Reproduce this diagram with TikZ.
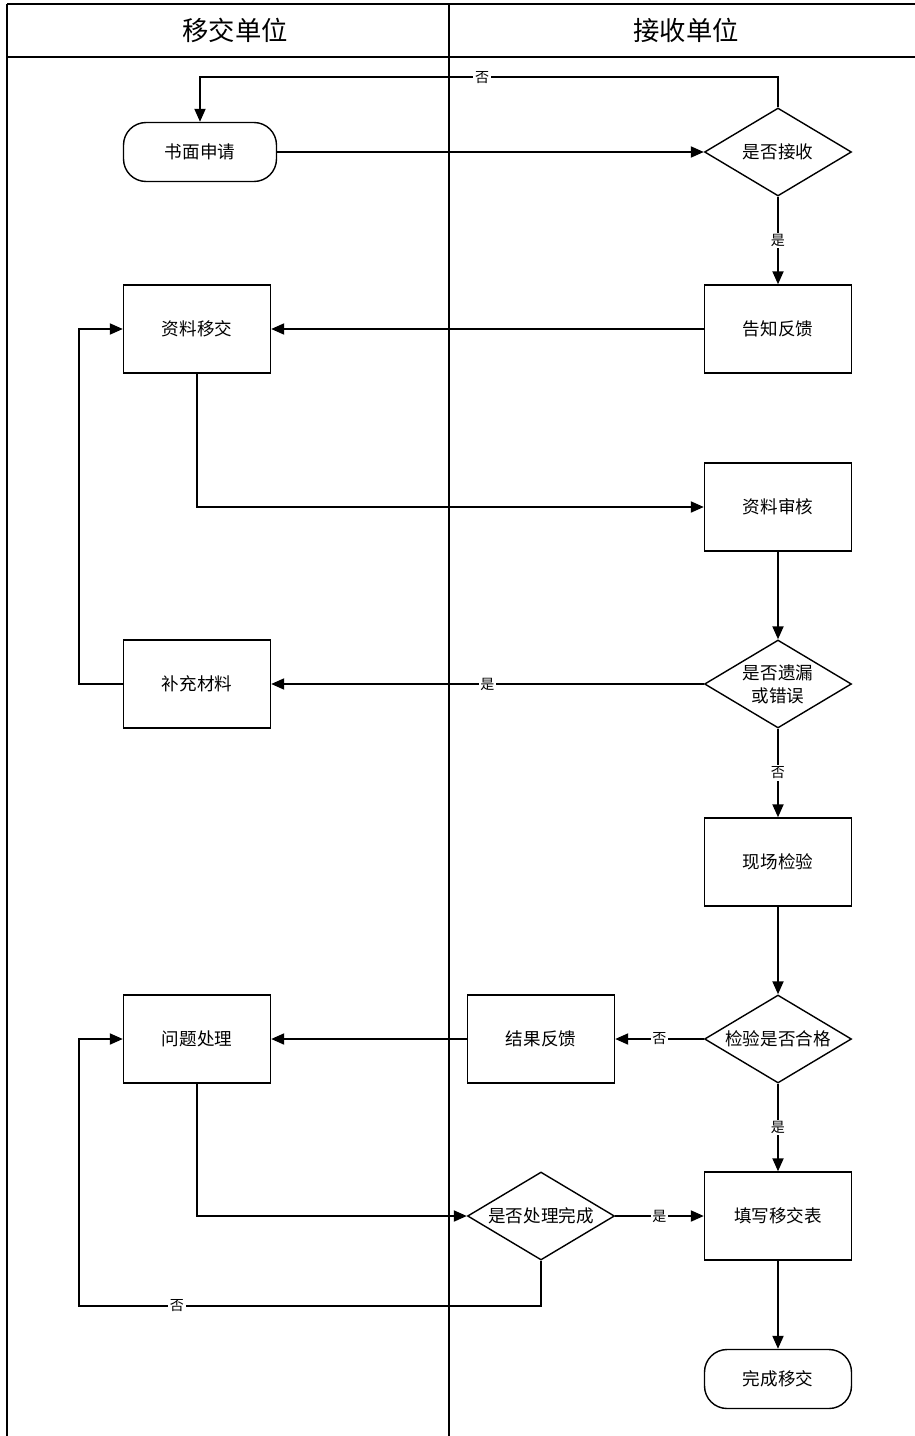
\documentclass[tikz,border=0pt]{standalone}
\usepackage{fontspec}
\newfontfamily\cjk{Noto Sans CJK SC}
\usepackage{tikz}
\usetikzlibrary{arrows.meta,positioning,calc,shapes.geometric}

\tikzset{
    box/.style={draw, line width=0.8pt, minimum width=2.94cm, minimum height=1.76cm,
        inner sep=0pt, align=center, font=\cjk\fontsize{10}{13}\selectfont},
    term/.style={box, rounded corners=0.45cm, minimum height=1.18cm},
    decide/.style={box, diamond, aspect=1.67},
    flow/.style={-{Triangle[length=0.26cm,width=0.22cm]}, line width=1.1pt},
    lbl/.style={fill=white, inner sep=1pt, font=\cjk\fontsize{8}{9}\selectfont},
    lane/.style={line width=0.6pt},
    head/.style={font=\cjk\fontsize{15}{18}\selectfont},
}

\begin{document}
\begin{tikzpicture}[x=0.02cm, y=-0.02cm]
    \useasboundingbox (0,0) rectangle (915,1436);

    % Lanes
    \draw[line width=1.1pt] (7,4) -- (915,4);
    \draw[line width=0.9pt] (7,57) -- (915,57);
    \draw[lane] (7,4) -- (7,1436);
    \draw[lane] (449,4) -- (449,1436);
    \node[head] (sender) at (235,30) {移交单位};
    \node[head] (receiver) at (686,30) {接收单位};

    % Left lane
    \node[term, minimum width=3.06cm] (shumian) at (200,152) {书面申请};
    \node[box] (yijiao) at (197,329) {资料移交};
    \node[box] (buchong) at (197,684) {补充材料};
    \node[box] (wenti) at (197,1039) {问题处理};

    % Right lane
    \node[decide] (jieshou) at (778,152) {是否接收};
    \node[box] (gaozhi) at (778,329) {告知反馈};
    \node[box] (shenhe) at (778,507) {资料审核};
    \node[decide] (yilou) at (778,684) {是否遗漏\\或错误};
    \node[box] (xianchang) at (778,862) {现场检验};
    \node[decide] (jianyan) at (778,1039) {检验是否合格};
    \node[box] (jieguo) at (541,1039) {结果反馈};
    \node[decide] (chuli) at (541,1216) {是否处理完成};
    \node[box] (tianxie) at (778,1216) {填写移交表};
    \node[term] (wancheng) at (778,1379) {完成移交};

    % Connectors
    \draw[flow] (jieshou.north) -- ++(0,-30) -| node[lbl,pos=0.256]{否} (shumian.north);
    \draw[flow] (shumian) -- (jieshou);
    \draw[flow] (jieshou) -- node[lbl]{是} (gaozhi);
    \draw[flow] (gaozhi) -- (yijiao);
    \draw[flow] (yijiao) |- (shenhe);
    \draw[flow] (shenhe) -- (yilou);
    \draw[flow] (yilou) -- node[lbl]{是} (buchong);
    \draw[flow] (buchong.west) -- ++(-44,0) |- (yijiao.west);
    \draw[flow] (yilou) -- node[lbl]{否} (xianchang);
    \draw[flow] (xianchang) -- (jianyan);
    \draw[flow] (jianyan) -- node[lbl]{否} (jieguo);
    \draw[flow] (jieguo) -- (wenti);
    \draw[flow] (jianyan) -- node[lbl]{是} (tianxie);
    \draw[flow] (wenti) |- (chuli);
    \draw[flow] (chuli) -- node[lbl]{是} (tianxie);
    \draw[flow] (chuli.south) -- ++(0,45) -| node[lbl,pos=0.394]{否} ($(wenti.west)+(-44,0)$) -- (wenti.west);
    \draw[flow] (tianxie) -- (wancheng);
\end{tikzpicture}
\end{document}
